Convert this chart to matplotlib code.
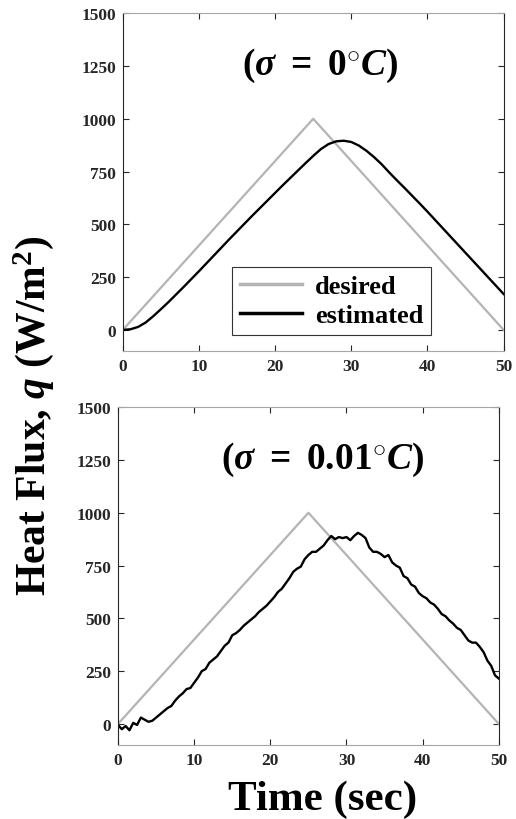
import matplotlib
matplotlib.use("Agg")
import matplotlib.pyplot as plt

plt.rcParams['font.family'] = ['Liberation Serif', 'DejaVu Serif']
plt.rcParams['font.weight'] = 'bold'
plt.rcParams['mathtext.fontset'] = 'custom'
plt.rcParams['mathtext.rm'] = 'Liberation Serif:bold'
plt.rcParams['mathtext.it'] = 'Liberation Serif:italic:bold'
plt.rcParams['mathtext.bf'] = 'Liberation Serif:bold'

# desired heat flux (triangle)
t_desired = [0, 25, 50]
q_desired = [0, 1000, 0]

# estimated, sigma = 0 (1 s steps)
t_est0 = list(range(0, 51))
q_est0 = [0, 3, 14, 35, 65, 98, 132, 168, 204, 241,
          278, 316, 354, 392, 430, 467, 504, 541, 577, 613,
          649, 685, 720, 755, 790, 824, 856, 880, 893, 896,
          890, 873, 848, 818, 784, 745, 708, 672, 635, 598,
          560, 521, 482, 443, 404, 365, 326, 287, 248, 209,
          170]

# estimated, sigma = 0.01 (0.5 s steps)
t_est1 = [i * 0.5 for i in range(101)]
q_est1 = [-5, -25, -10, -30, 5, -5, 30, 20, 10, 15,
          30, 45, 60, 75, 85, 110, 130, 145, 165, 170,
          195, 220, 250, 260, 290, 305, 320, 345, 370, 385,
          420, 430, 445, 465, 480, 495, 510, 530, 545, 560,
          580, 600, 625, 640, 665, 690, 720, 735, 745, 780,
          800, 815, 815, 830, 845, 870, 890, 875, 885, 880,
          885, 870, 890, 905, 895, 880, 835, 815, 815, 805,
          790, 800, 765, 750, 740, 700, 690, 660, 650, 620,
          605, 595, 575, 565, 545, 520, 510, 490, 475, 455,
          445, 420, 395, 385, 385, 365, 340, 300, 275, 230,
          215]

x_ticks = [0, 10, 20, 30, 40, 50]
y_ticks = [0, 250, 500, 750, 1000, 1250, 1500]

gray = '#b4b4b4'

fig = plt.figure(figsize=(5.16, 8.2), dpi=100)
ax1 = fig.add_axes([0.238, 0.5707, 0.738, 0.412])
ax2 = fig.add_axes([0.2287, 0.0902, 0.738, 0.412])

panels = [(ax1, t_est0, q_est0, r'$(\sigma\ =\ 0^{\circ}C)$', 25.9),
          (ax2, t_est1, q_est1, r'$(\sigma\ =\ 0.01^{\circ}C)$', 26.8)]

for ax, t_est, q_est, label, lx in panels:
    ax.plot(t_desired, q_desired, color=gray, lw=1.6, label='desired')
    ax.plot(t_est, q_est, color='black', lw=1.7, label='estimated')
    ax.set_xlim(0, 50)
    ax.set_ylim(-100, 1500)
    ax.set_xticks(x_ticks)
    ax.set_yticks(y_ticks)
    ax.tick_params(direction='in', length=4, width=0.8, top=True, right=True,
                   labelsize=12.5, colors='#262626', pad=5)
    for s in ['top', 'bottom']:
        ax.spines[s].set_color('#a6a6a6')
    for s in ['left', 'right']:
        ax.spines[s].set_color('#262626')
    for lab in ax.get_xticklabels() + ax.get_yticklabels():
        lab.set_fontweight('bold')
    ax.text(lx, 1255, label, fontsize=27, ha='center', va='center')

leg = ax1.legend(loc='lower left', bbox_to_anchor=(0.286, 0.047), borderaxespad=0,
                 fancybox=False, edgecolor='#333333', framealpha=1,
                 prop={'family': 'Liberation Serif', 'weight': 'bold', 'size': 19},
                 handlelength=2.35, borderpad=0.3, labelspacing=0.2, handletextpad=0.5)
leg.get_frame().set_linewidth(0.8)
for line in leg.get_lines():
    line.set_linewidth(2.5)

fig.text(0.064, 0.493, r'Heat Flux, $q$ (W/m$^{2}$)', rotation=90,
         ha='center', va='center', fontsize=30, fontweight='bold')
fig.text(0.626, 0.012, 'Time (sec)', ha='center', va='baseline',
         fontsize=31, fontweight='bold')

fig.savefig('out.png', dpi=100)
